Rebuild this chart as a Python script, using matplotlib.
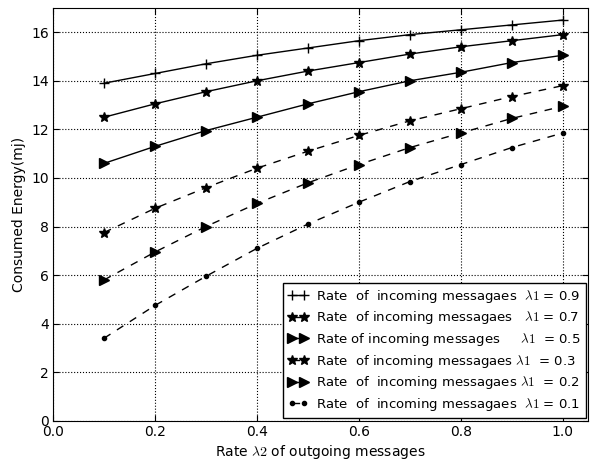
import matplotlib
matplotlib.use('Agg')
import matplotlib.pyplot as plt

plt.rcParams['mathtext.fontset'] = 'cm'
plt.rcParams['font.family'] = 'DejaVu Sans'

rate2 = [0.1, 0.2, 0.3, 0.4, 0.5, 0.6, 0.7, 0.8, 0.9, 1.0]
e_09 = [13.9, 14.3, 14.7, 15.05, 15.35, 15.65, 15.9, 16.1, 16.3, 16.5]
e_07 = [12.5, 13.05, 13.55, 14.0, 14.4, 14.75, 15.1, 15.4, 15.65, 15.9]
e_05 = [10.6, 11.3, 11.95, 12.5, 13.05, 13.55, 14.0, 14.35, 14.75, 15.05]
e_03 = [7.75, 8.75, 9.6, 10.4, 11.1, 11.75, 12.35, 12.85, 13.35, 13.8]
e_02 = [5.8, 6.95, 8.0, 8.95, 9.8, 10.55, 11.25, 11.85, 12.45, 12.95]
e_01 = [3.4, 4.75, 5.95, 7.1, 8.1, 9.0, 9.85, 10.55, 11.25, 11.85]

labels = [r'Rate  of  incoming messagaes  $\lambda1$ = 0.9',
          r'Rate  of incoming messagaes   $\lambda1$ = 0.7',
          r'Rate of incoming messages     $\lambda1$  = 0.5',
          r'Rate  of incoming messagaes $\lambda1$  = 0.3',
          r'Rate  of  incoming messagaes $\lambda1$  = 0.2',
          r'Rate  of  incoming messagaes  $\lambda1$ = 0.1']

dash = (0, (5.5, 5.5))

fig = plt.figure(figsize=(5.9, 4.66), dpi=100)
ax = fig.add_axes([0.09, 0.097, 0.907, 0.886])

ax.plot(rate2, e_09, 'k-', marker='+', markersize=7, lw=1, label=labels[0])
ax.plot(rate2, e_07, 'k-', marker='*', markersize=7, lw=1, label=labels[1])
ax.plot(rate2, e_05, 'k-', marker='>', markersize=7.5, lw=1, label=labels[2])
ax.plot(rate2, e_03, color='k', linestyle=dash, marker='*', markersize=7, lw=1, label=labels[3])
ax.plot(rate2, e_02, color='k', linestyle=dash, marker='>', markersize=7.5, lw=1, label=labels[4])
ax.plot(rate2, e_01, color='k', linestyle=dash, marker='.', markersize=6, lw=1, label=labels[5])

ax.set_xlim(0, 1.05)
ax.set_ylim(0, 17)
ax.set_xticks([0.0, 0.2, 0.4, 0.6, 0.8, 1.0])
ax.set_yticks([0, 2, 4, 6, 8, 10, 12, 14, 16])
ax.grid(True, color='k', linestyle=':', linewidth=0.8)
ax.tick_params(direction='in', top=True, right=True, labelsize=10, length=4, pad=3)
ax.set_xlabel(r'Rate $\lambda2$ of outgoing messages', fontsize=10, labelpad=3)
ax.set_ylabel('Consumed Energy(mj)', fontsize=10)

leg = ax.legend(loc='lower right', numpoints=2, fontsize=9.5, fancybox=False,
                framealpha=1, edgecolor='k', borderaxespad=0.2, handlelength=1.5,
                labelspacing=0.35, handletextpad=0.6)
leg.get_frame().set_linewidth(1)

fig.savefig('out.png', dpi=100)
